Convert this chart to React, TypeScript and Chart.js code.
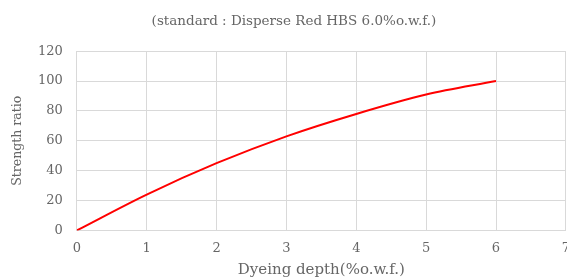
import React, { useEffect, useRef } from "react";
import { Chart, registerables } from "chart.js";

Chart.register(...registerables);

const depths = [0, 1, 2, 3, 4, 5, 6];
const strength = [0, 24, 45, 63, 78, 91, 100];
const titleText = "(standard : Disperse Red HBS 6.0%o.w.f.)";
const xTitle = "Dyeing depth(%o.w.f.)";
const yTitle = "Strength ratio";

export default function App() {
  const ref = useRef<HTMLCanvasElement | null>(null);
  useEffect(() => {
    if (!ref.current) return;
    const font = "'DejaVu Serif', 'Liberation Serif', serif";
    const grey = "#666666";
    const chart = new Chart(ref.current, {
      type: "scatter",
      data: {
        datasets: [
          {
            data: depths.map((d, i) => ({ x: d, y: strength[i] })),
            showLine: true,
            borderColor: "#ff0000",
            borderWidth: 2,
            pointRadius: 0,
            cubicInterpolationMode: "monotone",
            fill: false,
          },
        ],
      },
      options: {
        responsive: false,
        animation: false,
        layout: { padding: { left: 8, right: 0, top: 0, bottom: 0 } },
        plugins: {
          legend: { display: false },
          tooltip: { enabled: false },
          title: {
            display: true,
            text: titleText,
            color: grey,
            font: { family: font, size: 13.5, weight: "normal" },
            padding: { top: 13, bottom: 22 },
          },
        },
        scales: {
          x: {
            type: "linear",
            min: 0,
            max: 7,
            ticks: { stepSize: 1, color: grey, font: { family: font, size: 13 }, padding: 10 },
            grid: { color: "#d9d9d9", drawTicks: false },
            border: { color: "#d9d9d9" },
            title: { display: true, text: xTitle, color: grey, font: { family: font, size: 15 }, padding: { top: -5, bottom: 0 } },
          },
          y: {
            min: 0,
            max: 120,
            ticks: { stepSize: 20, color: grey, font: { family: font, size: 13 }, padding: 14 },
            grid: { color: "#d9d9d9", drawTicks: false },
            border: { color: "#d9d9d9" },
            title: { display: true, text: yTitle, color: grey, font: { family: font, size: 12.5 }, padding: { top: 2, bottom: -1 } },
          },
        },
      },
    });
    return () => chart.destroy();
  }, []);
  return (
    <div style={{ position: "absolute", left: 0, top: 0, width: 567, height: 280, overflow: "hidden", background: "#fff" }}>
      <canvas ref={ref} width={580} height={279} style={{ display: "block" }} />
    </div>
  );
}
